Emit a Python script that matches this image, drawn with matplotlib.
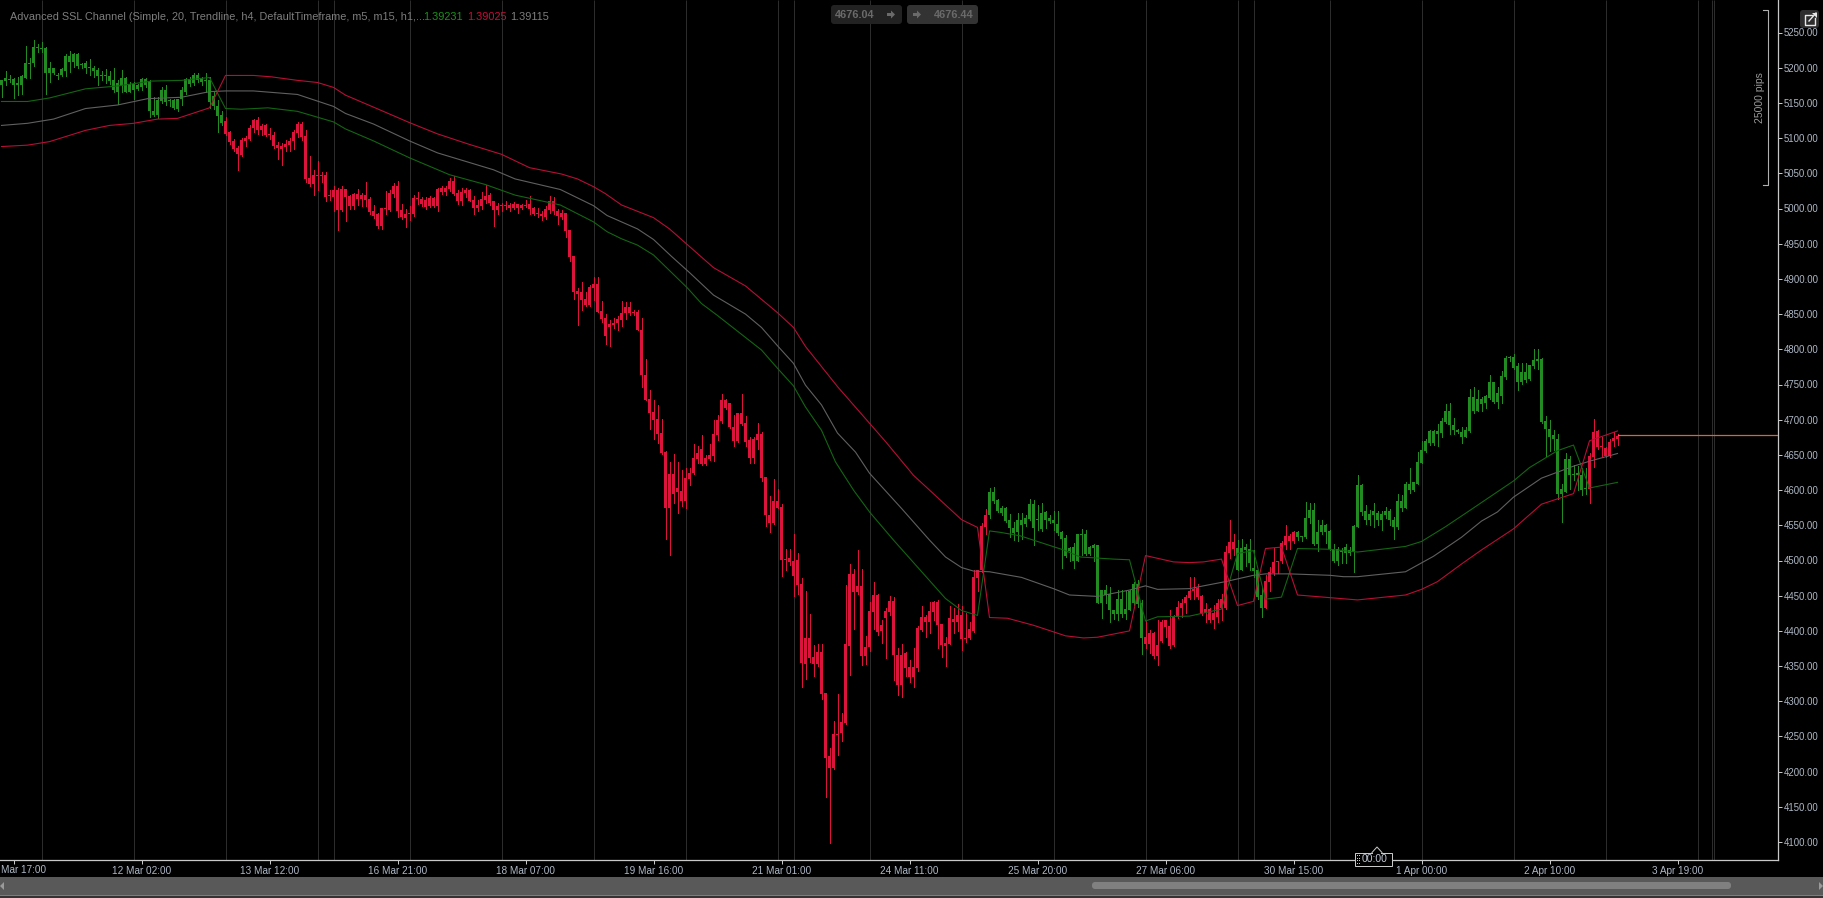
import matplotlib
matplotlib.use("Agg")
import matplotlib.pyplot as plt
from matplotlib.patches import Rectangle, FancyBboxPatch, Polygon
from matplotlib.lines import Line2D
from matplotlib.transforms import Affine2D

W, H = 1824, 898
plt.rcParams['font.family'] = ['Liberation Sans', 'DejaVu Sans']

high = [5182,5196,5189,5185,5187,5190,5231,5214,5239,5234,
5236,5229,5208,5200,5192,5199,5219,5224,5221,5221,
5206,5210,5212,5202,5200,5196,5198,5195,5199,5182,
5197,5187,5180,5180,5177,5185,5185,5182,5159,5158,
5173,5176,5156,5156,5156,5173,5185,5187,5192,5193,
5187,5192,5187,5166,5154,5139,5130,5110,5099,5089,
5100,5103,5118,5127,5130,5120,5120,5114,5108,5094,
5093,5098,5100,5111,5123,5123,5111,5074,5055,5067,
5052,5052,5026,5032,5029,5032,5028,5019,5022,5027,
5022,5038,5016,5005,4993,5001,5025,5026,5036,5039,
5006,5000,5004,5019,5023,5016,5017,5018,5016,5029,
5032,5032,5043,5046,5026,5029,5029,5027,5018,5012,
5024,5034,5022,5010,5008,5008,5010,5008,5009,5007,
5006,5012,5018,5002,5001,4997,5004,5018,5016,4999,
4998,4994,4970,4933,4887,4896,4881,4892,4902,4902,
4868,4850,4842,4844,4847,4869,4867,4867,4856,4856,
4844,4786,4742,4728,4721,4701,4655,4640,4651,4640,
4628,4631,4631,4665,4662,4678,4650,4666,4700,4706,
4737,4729,4724,4707,4709,4736,4705,4676,4675,4696,
4682,4619,4591,4616,4602,4580,4517,4516,4538,4511,
4475,4456,4424,4380,4382,4381,4312,4233,4272,4310,
4284,4465,4495,4488,4515,4488,4393,4441,4469,4452,
4415,4432,4449,4448,4376,4381,4370,4359,4376,4407,
4435,4422,4441,4442,4444,4410,4391,4435,4432,4438,
4436,4425,4412,4486,4486,4553,4573,4603,4604,4588,
4577,4576,4566,4555,4567,4568,4564,4587,4586,4579,
4581,4570,4564,4570,4570,4542,4536,4519,4525,4538,
4545,4543,4520,4524,4522,4458,4465,4463,4430,4458,
4458,4456,4458,4470,4472,4444,4414,4401,4399,4415,
4416,4415,4429,4422,4442,4445,4451,4477,4476,4466,
4451,4439,4432,4437,4446,4452,4520,4557,4537,4529,
4530,4524,4530,4515,4486,4463,4480,4491,4518,4500,
4527,4551,4538,4542,4542,4535,4583,4581,4582,4557,
4558,4552,4543,4523,4519,4518,4524,4519,4550,4621,
4608,4579,4572,4582,4571,4570,4576,4573,4562,4594,
4593,4612,4631,4611,4654,4670,4672,4686,4686,4694,
4702,4723,4724,4703,4687,4690,4690,4744,4747,4742,
4732,4735,4764,4754,4747,4769,4790,4791,4794,4780,
4780,4780,4777,4801,4800,4787,4705,4700,4685,4680,
4609,4653,4649,4635,4634,4631,4631,4652,4701,4685,
4675,4661,4673,4683,4679]

body_top = [5182,5185,5184,5184,5178,5188,5206,5206,5230,5230,
5228,5228,5200,5199,5189,5198,5216,5216,5219,5219,
5205,5207,5201,5199,5197,5189,5189,5188,5183,5178,
5185,5185,5177,5177,5175,5184,5184,5181,5138,5154,
5169,5169,5154,5154,5155,5168,5184,5184,5190,5189,
5184,5183,5182,5160,5145,5133,5124,5108,5096,5086,
5097,5100,5115,5126,5126,5117,5118,5106,5104,5090,
5089,5092,5096,5109,5120,5120,5103,5043,5048,5048,
5048,5048,5019,5026,5026,5028,5027,5018,5021,5021,
5019,5019,5014,4996,4992,5001,5001,5022,5032,5032,
4998,4992,4993,5015,5015,5014,5012,5015,5015,5028,
5029,5029,5039,5039,5022,5024,5026,5026,5012,5005,
5014,5018,5019,5010,5004,5004,5004,5005,5007,5007,
5005,5005,5007,5001,4994,4992,4999,5011,5011,4997,
4994,4994,4970,4933,4883,4881,4872,4889,4893,4893,
4854,4844,4836,4838,4843,4852,4860,4860,4853,4853,
4828,4764,4729,4711,4701,4681,4654,4623,4623,4603,
4599,4617,4624,4645,4653,4659,4645,4650,4680,4700,
4728,4728,4724,4689,4709,4709,4695,4671,4673,4679,
4680,4619,4565,4584,4584,4576,4502,4503,4499,4501,
4467,4390,4390,4363,4370,4370,4312,4222,4253,4253,
4270,4381,4481,4481,4464,4464,4377,4428,4451,4451,
4408,4428,4442,4442,4366,4366,4368,4349,4349,4404,
4420,4420,4428,4441,4441,4410,4383,4418,4417,4422,
4422,4390,4403,4476,4486,4549,4565,4597,4597,4586,
4574,4574,4557,4546,4557,4557,4560,4580,4580,4558,
4568,4569,4560,4557,4552,4541,4532,4518,4519,4537,
4537,4537,4519,4522,4522,4458,4458,4453,4430,4445,
4445,4431,4456,4466,4466,4439,4391,4397,4397,4380,
4413,4415,4407,4420,4434,4439,4448,4457,4460,4461,
4449,4431,4431,4425,4439,4445,4512,4526,4526,4518,
4518,4519,4516,4489,4486,4451,4471,4484,4498,4499,
4525,4535,4535,4540,4540,4535,4561,4572,4572,4540,
4550,4550,4542,4516,4516,4514,4519,4515,4549,4607,
4607,4570,4566,4570,4567,4566,4570,4571,4557,4584,
4584,4609,4609,4611,4640,4657,4670,4684,4684,4684,
4698,4712,4712,4693,4686,4683,4685,4732,4732,4730,
4730,4733,4754,4754,4738,4762,4788,4788,4789,4776,
4768,4768,4777,4785,4786,4786,4698,4687,4678,4673,
4601,4644,4644,4623,4624,4622,4602,4648,4682,4684,
4662,4660,4669,4674,4677]

body_bot = [5175,5181,5183,5176,5176,5175,5186,5205,5206,5228,
5227,5192,5192,5192,5188,5189,5196,5208,5208,5203,
5204,5199,5200,5195,5188,5188,5188,5181,5168,5166,
5175,5166,5166,5169,5170,5172,5175,5139,5133,5133,
5152,5151,5152,5143,5142,5155,5166,5177,5178,5182,
5179,5181,5151,5145,5132,5122,5106,5095,5085,5078,
5076,5096,5099,5114,5112,5112,5104,5105,5089,5086,
5084,5087,5090,5096,5107,5101,5042,5035,5035,5046,
5046,5016,5018,5016,4998,4998,5016,5004,5004,5013,
5013,5012,4995,4990,4975,4975,4999,4998,5021,4997,
4988,4987,4992,4992,5014,5006,5002,5003,5004,5004,
5024,5023,5027,5021,5011,5011,5022,5011,5001,5001,
5004,5012,5008,4998,4998,5003,5003,5001,5001,5001,
5001,5004,4999,4992,4992,4989,4988,4998,4996,4989,
4988,4968,4931,4882,4879,4870,4863,4863,4887,4853,
4843,4819,4832,4835,4837,4842,4851,4851,4852,4827,
4763,4728,4710,4700,4680,4652,4575,4575,4595,4598,
4585,4585,4616,4624,4644,4637,4637,4644,4648,4678,
4698,4716,4689,4670,4670,4694,4669,4645,4645,4671,
4617,4565,4553,4553,4575,4501,4501,4498,4478,4465,
4355,4353,4362,4353,4353,4310,4220,4205,4205,4252,
4255,4269,4378,4455,4455,4364,4364,4377,4427,4398,
4400,4418,4427,4366,4323,4323,4347,4334,4334,4347,
4401,4413,4413,4427,4408,4380,4378,4381,4413,4413,
4388,4388,4390,4400,4475,4486,4548,4565,4585,4570,
4568,4556,4546,4539,4540,4551,4552,4559,4546,4557,
4545,4558,4556,4553,4539,4531,4507,4514,4500,4500,
4536,4509,4509,4518,4440,4440,4451,4429,4424,4424,
4424,4424,4430,4439,4438,4390,4381,4381,4365,4365,
4385,4406,4378,4380,4420,4433,4439,4447,4456,4448,
4425,4425,4415,4415,4420,4432,4432,4510,4517,4487,
4487,4515,4496,4485,4448,4433,4433,4470,4482,4498,
4499,4522,4528,4528,4534,4534,4534,4560,4523,4523,
4540,4541,4516,4500,4500,4512,4511,4511,4512,4548,
4569,4557,4557,4564,4557,4557,4564,4557,4548,4548,
4575,4575,4600,4600,4609,4639,4656,4667,4667,4680,
4681,4697,4692,4685,4683,4676,4676,4684,4713,4713,
4723,4724,4731,4725,4725,4733,4760,4787,4774,4753,
4753,4756,4758,4776,4784,4697,4687,4676,4673,4595,
4594,4598,4621,4622,4622,4600,4601,4602,4647,4661,
4661,4649,4649,4670,4673]

low = [5159,5175,5180,5157,5161,5162,5186,5185,5203,5223,
5222,5162,5179,5191,5184,5188,5188,5194,5201,5200,
5199,5193,5190,5187,5175,5182,5178,5177,5166,5148,
5165,5166,5165,5155,5169,5169,5173,5130,5132,5128,
5150,5147,5146,5141,5138,5147,5163,5174,5175,5180,
5176,5165,5143,5141,5109,5119,5104,5092,5081,5055,
5075,5089,5097,5109,5106,5105,5103,5099,5086,5071,
5062,5081,5081,5084,5101,5097,5037,5032,5019,5026,
5038,5010,5012,4996,4969,4996,4982,4999,4999,5005,
5004,5004,4992,4986,4972,4971,4992,4996,5016,4988,
4985,4974,4984,4990,5007,5004,5000,5002,5002,4996,
5021,5019,5025,5019,5007,5005,5017,5010,4992,4997,
5000,5008,5005,4975,4992,4997,4999,4997,5000,4994,
4999,5002,4992,4991,4988,4983,4985,4993,4992,4978,
4985,4960,4926,4871,4835,4856,4861,4862,4870,4853,
4839,4807,4805,4830,4827,4833,4843,4849,4849,4827,
4747,4728,4687,4673,4667,4651,4531,4508,4581,4567,
4577,4575,4607,4623,4638,4636,4635,4643,4642,4671,
4695,4715,4688,4662,4669,4692,4662,4638,4638,4659,
4613,4549,4541,4552,4574,4478,4486,4494,4450,4453,
4321,4332,4356,4336,4350,4303,4164,4099,4204,4224,
4243,4268,4337,4403,4453,4351,4353,4371,4403,4394,
4383,4361,4422,4330,4309,4306,4336,4327,4320,4343,
4400,4391,4397,4415,4376,4363,4350,4381,4397,4400,
4373,4384,4389,4398,4457,4483,4538,4561,4581,4569,
4565,4555,4533,4529,4528,4530,4549,4557,4522,4543,
4542,4546,4553,4543,4536,4489,4505,4500,4490,4500,
4508,4508,4508,4500,4439,4418,4439,4413,4417,4416,
4420,4417,4429,4437,4434,4367,4375,4368,4361,4351,
4384,4392,4376,4379,4418,4420,4425,4445,4446,4446,
4423,4413,4412,4404,4413,4415,4431,4504,4508,4486,
4486,4492,4487,4477,4445,4420,4432,4456,4480,4482,
4497,4517,4517,4525,4529,4527,4532,4553,4522,4514,
4538,4525,4515,4498,4493,4496,4497,4508,4483,4547,
4564,4552,4550,4547,4550,4544,4560,4550,4531,4545,
4571,4574,4596,4599,4608,4638,4654,4664,4664,4663,
4676,4695,4680,4679,4681,4667,4675,4683,4710,4712,
4713,4716,4730,4724,4717,4724,4758,4784,4772,4742,
4751,4753,4757,4774,4772,4696,4649,4656,4657,4588,
4555,4597,4602,4614,4600,4593,4595,4582,4633,4659,
4649,4647,4647,4662,4664]

# colour regimes of the candles
trend_starts = [0, 56, 247, 286, 309, 316, 324, 397]
trend_names = ['up', 'down', 'up', 'down', 'up', 'down', 'up', 'down']

red_x = [0,6.5,12,21,27,33,39,44,52,56,63,67.5,74,79,83,86,93,102,109,117,125,132,140,144,148,151,155,163,167,173,178,186,194,198,201,209,217,221,228,240,244,247,251.5,258,266,270.5,274,282,286,293,297,300.5,305,309,313,316,320,324,339,351,355,359,365,370,378,385,393,397,404]
red_y = [5088,5090,5095,5111,5118,5121,5127,5128,5143,5189,5189,5187,5182,5179,5172,5161,5144,5122,5106,5091,5077,5058,5049,5042,5031,5021,5005,4987,4971,4941,4916,4890,4852,4831,4804,4747,4695,4669,4621,4558,4547,4419,4418,4408,4393,4390,4391,4400,4507,4498,4497,4498,4502,4436,4442,4517,4519,4451,4444,4451,4459,4470,4495,4515,4545,4580,4595,4670,4684]
green_x = [0,6.5,12,21,29,37.5,45,52,56,60,66.6,74,83,86,93,102,112,121,128.4,139.7,148,151.4,155,159,163,171.5,175,179,190,194,198,201,205,208.5,213,217,223,236,240,244,247,249.7,254.7,265.5,269.7,278,282,286,289,297,305,309,313,316,320,324,332,339,351,355,361,366,378,382,389,393,397,404]
green_y = [5152,5152,5157,5170,5174,5181,5182,5186,5142,5141,5143,5138,5123,5113,5096,5072,5048,5034,5019,5005,4981,4967,4957,4948,4934,4887,4865,4848,4799,4773,4748,4718,4685,4640,4600,4569,4529,4446,4429,4422,4542,4540,4535,4515,4505,4502,4501,4414,4420,4421,4431,4510,4514,4445,4448,4517,4516,4512,4520,4527,4548,4567,4613,4632,4656,4664,4603,4611]
grey_x = [0,6.5,13,21,29,36.5,45,52,56,63,74,83,86,93,102,109,123,128.4,139.7,148,151.4,155,159,163,167.5,172,178,186,190,194,198,201,205,209,213.5,217,225,232,236,240,243,247,255,263,267,274,282,286,289,297,300.5,306,313,316,322,332,335.5,339,351,358,365,370,374,378,385,393,397,404]
grey_y = [5118,5121,5127,5142,5147,5156,5158,5166,5167,5167,5162,5145,5135,5120,5096,5079,5055,5042,5027,5004,4990,4981,4971,4956,4932,4909,4877,4850,4831,4805,4780,4749,4721,4681,4654,4624,4574,4529,4505,4490,4485,4484,4476,4460,4451,4449,4458,4464,4459,4460,4464,4470,4479,4481,4481,4479,4477,4477,4484,4506,4533,4556,4569,4590,4617,4634,4641,4652]

separator_bars = [10,33,56,79,83,102,125,148,171,194,198,217,240,263,286,309,313,332,355,378,401,424,427.5,428]
tick_bars = [3,35,67,99,131,163,195,227,259,291,323,355,387,419]
tick_labels = ['','12 Mar 02:00','13 Mar 12:00','16 Mar 21:00','18 Mar 07:00','19 Mar 16:00',
               '21 Mar 01:00','24 Mar 11:00','25 Mar 20:00','27 Mar 06:00','30 Mar 15:00','1 Apr 00:00',
               '2 Apr 10:00','3 Apr 19:00']
first_tick_visible = 'Mar 17:00'
price_ticks = list(range(4100, 5251, 50))
last_price = 4678
legend_values = ['1.39231', '1.39025', '1.39115']
bid_ask = ['4676.04', '4676.44']

UP, DOWN = '#228B22', '#DC143C'
fig = plt.figure(figsize=(W/100, H/100), dpi=100, facecolor='black')
ax = fig.add_axes([0, (H-860)/H, 1778/W, 860/H], facecolor='black')
ax.set_xlim(-1.5/4, (1778-1.5)/4)
ax.set_ylim(5250-(860-32.5)/0.704, 5250+32.5/0.704)

ax.vlines(separator_bars, 0, 1, transform=ax.get_xaxis_transform(), colors='#2c2c2c', lw=0.72, zorder=1)

colors = []
for i in range(len(high)):
    k = sum(1 for s in trend_starts if s <= i) - 1
    colors.append(UP if trend_names[k] == 'up' else DOWN)
bars = list(range(len(high)))
ax.vlines(bars, low, high, colors=colors, lw=0.72, zorder=2, antialiased=False)
ax.bar(bars, [max(t-b, 1.45) for t, b in zip(body_top, body_bot)], bottom=body_bot, width=0.8,
       color=colors, linewidth=0, zorder=2, antialiased=False)

ax.plot(green_x, green_y, color='#136613', lw=0.8, zorder=3)
ax.plot(grey_x, grey_y, color='#606060', lw=0.8, zorder=3)
ax.plot(red_x, red_y, color='#b80e36', lw=0.8, zorder=3)
ax.plot([len(high)-1, ax.get_xlim()[1]], [last_price, last_price], color='#e0623a', lw=0.9, zorder=3)

for s in ('top', 'left'):
    ax.spines[s].set_visible(False)
for s in ('right', 'bottom'):
    ax.spines[s].set_color('#c8c8c8')
    ax.spines[s].set_linewidth(0.9)
ax.yaxis.tick_right()
ax.set_yticks(price_ticks)
ax.set_yticklabels([f'{p:.2f}' for p in price_ticks])
ax.set_xticks(tick_bars)
ax.set_xticklabels(tick_labels)
ax.tick_params(axis='y', colors='#c8c8c8', labelcolor='#aeb8c6', length=3, width=0.72, pad=1, labelsize=6.9)
ax.tick_params(axis='x', colors='#c8c8c8', labelcolor='#aeb8c6', length=3, width=0.72, pad=1.2, labelsize=7.2)

# overlay in pixel coordinates (origin top-left)
T = Affine2D().scale(1, -1).translate(0, H)
def rect(x0, y0, x1, y1, c, **kw):
    fig.add_artist(Rectangle((x0, y0), x1-x0, y1-y0, transform=T, facecolor=c, edgecolor='none', **kw))
def rrect(x0, y0, x1, y1, c, pad=2):
    fig.add_artist(FancyBboxPatch((x0+pad, y0+pad), x1-x0-2*pad, y1-y0-2*pad, boxstyle=f'round,pad={pad}',
                                  transform=T, facecolor=c, edgecolor='none'))
def txt(x, y, s, **kw):
    fig.text(x, y, s, transform=T, va='center', **kw)
def seg(xs, ys, c, lw=0.75):
    fig.add_artist(Line2D(xs, ys, transform=T, color=c, lw=lw))

txt(1, 870, first_tick_visible, color='#aeb8c6', fontsize=7.2)

# legend
txt(10, 17.5, 'Advanced SSL Channel (Simple, 20, Trendline, h4, DefaultTimeframe, m5, m15, h1,...',
    color='#7e7e7e', fontsize=7.8)
txt(423, 17.5, legend_values[0], color='#1f8f1f', fontsize=7.95)
txt(467, 17.5, legend_values[1], color='#c4103a', fontsize=7.95)
txt(510, 17.5, legend_values[2], color='#7e7e7e', fontsize=7.95)

# bid/ask boxes
rrect(831, 5, 902, 24, '#222222', 3)
rrect(907, 5, 978, 24, '#333333', 3)
txt(835, 14.5, bid_ask[0], color='#6a6a6a', fontsize=7.8, fontweight='bold')
txt(974, 14.5, bid_ask[1], color='#6a6a6a', fontsize=7.8, fontweight='bold', ha='right')
for ax0 in (887, 913):
    fig.add_artist(Polygon([(ax0, 13), (ax0+4, 13), (ax0+4, 10.5), (ax0+8, 14.5), (ax0+4, 18.5), (ax0+4, 16), (ax0, 16)],
                           transform=T, facecolor='#6a6a6a', edgecolor='none'))

# scale bracket
seg([1763, 1767.5, 1767.5, 1763], [9.5, 9.5, 185, 185], '#b0b0b0', 0.8)
txt(1760, 98, '25000 pips', color='#9a9a9a', fontsize=7.5, rotation=90, ha='center')

# expand icon
rrect(1800, 10, 1819, 28, '#2e2e2e', 3)
seg([1812, 1805, 1805, 1815, 1815], [15, 15, 25, 25, 18], '#e8e8e8', 1.0)
seg([1809, 1816], [21, 13], '#e8e8e8', 1.0)
fig.add_artist(Polygon([(1812, 12.5), (1817, 12.5), (1817, 17.5)], transform=T, facecolor='#e8e8e8', edgecolor='none'))

# bottom scroll bar
rect(0, 877, W, 895, '#595959')
rect(0, 895, W, 896, '#7c7c7c')
rect(0, 896, W, H, '#333333')
rrect(1092, 882, 1731, 889, '#808080', 3)
fig.add_artist(Polygon([(0, 886), (4, 882), (4, 890)], transform=T, facecolor='#9a9a9a', edgecolor='none'))
fig.add_artist(Polygon([(1823, 886), (1819, 882), (1819, 890)], transform=T, facecolor='#9a9a9a', edgecolor='none'))

# cursor time label
fig.add_artist(Rectangle((1355, 852.5), 37, 13, transform=T, facecolor='black', edgecolor='#c8c8c8', lw=0.72, zorder=5))
seg([1372, 1377, 1382], [852.5, 847, 852.5], '#c8c8c8', 0.72)
rect(1373, 852, 1381, 853.5, 'black', zorder=6)
txt(1374.5, 859, '00:00', color='#c0c8d4', fontsize=7.5, ha='center', zorder=7)
for yy in (855, 857.5, 860, 862.5):
    rect(1357, yy, 1358, yy+1, '#c8c8c8', zorder=7)
    rect(1359, yy, 1360, yy+1, '#c8c8c8', zorder=7)

fig.savefig('out.png', dpi=100, facecolor='black')
